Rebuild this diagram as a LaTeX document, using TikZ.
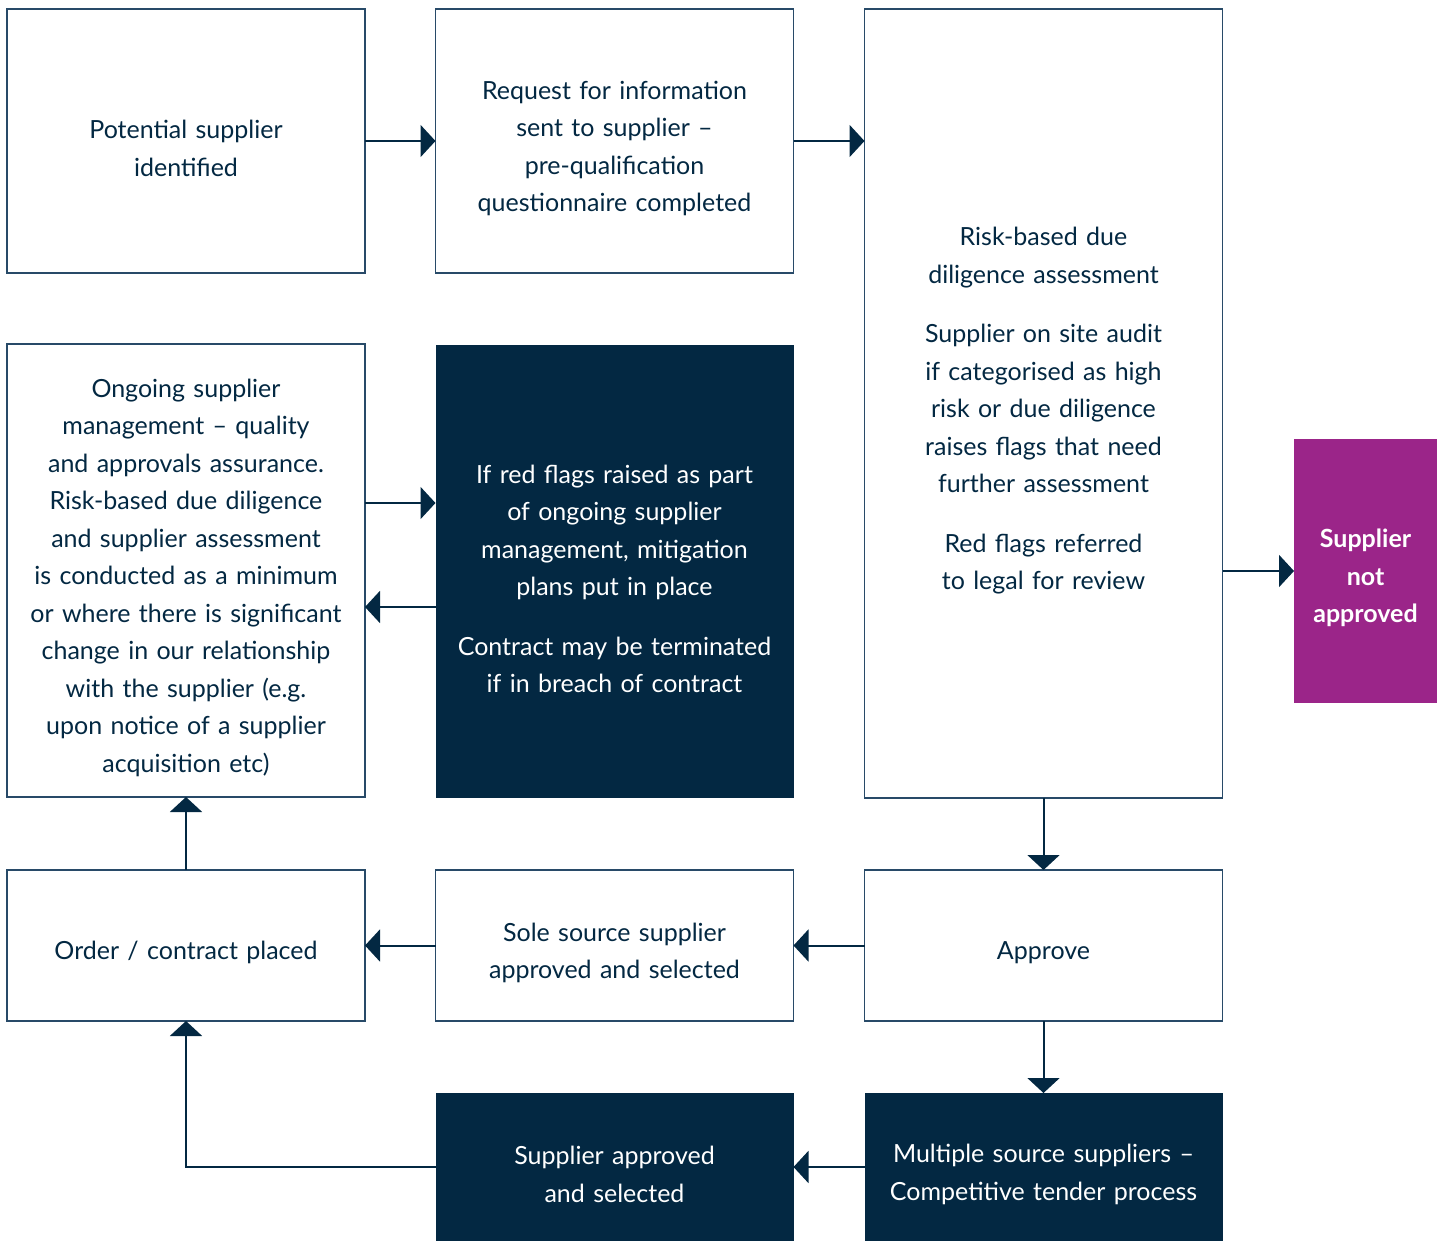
\documentclass[tikz,border=0pt]{standalone}
\usepackage{fontspec}
\setmainfont{Lato}
\usetikzlibrary{arrows.meta,positioning}
\definecolor{navy}{HTML}{032842}
\definecolor{plum}{HTML}{9B2589}
\definecolor{edge}{HTML}{284A68}
\tikzset{
  box/.style={draw=edge,line width=0.7pt,fill=white,text=navy,align=center,
    minimum width=179pt,text width=170pt,inner sep=0pt,outer sep=0pt,
    font=\fontsize{12.5pt}{18.75pt}\selectfont,
    execute at begin node={\rule{0pt}{16.5pt}}},
  darkbox/.style={box,draw=none,fill=navy,text=white},
  nobox/.style={box,draw=none,fill=plum,text=white,minimum width=71.5pt,
    text width=70pt,font=\bfseries\fontsize{12.5pt}{18.75pt}\selectfont},
  arr/.style={draw=navy,line width=1pt,-{Triangle[length=7.5pt,width=16pt]}}
}
\begin{document}
\begin{tikzpicture}[x=0.5pt,y=-0.5pt]
\useasboundingbox (0,0) rectangle (1446,1241);
%top row
\node[box,minimum height=132pt] (pot) at (186,141) {Potential supplier\\identified};
\node[box,minimum height=132pt] (rfi) at (614.5,141) {Request for information\\sent to supplier --\\pre-qualification\\questionnaire completed};
\node[box,minimum height=394.5pt] (risk) at (1043.5,403.5) {Risk-based due\\diligence assessment\\[11pt]
  Supplier on site audit\\if categorised as high\\risk or due diligence\\raises flags that need\\further assessment\\[11pt]
  Red flags referred\\to legal for review};
\node[nobox,minimum height=132pt] (nota) at (1365.5,571) {Supplier\\not\\approved};
%middle row
\node[box,minimum height=226.5pt] (ongo) at (186,570.5) {Ongoing supplier\\management -- quality\\and approvals assurance.\\Risk-based due diligence\\and supplier assessment\\is conducted as a minimum\\or where there is significant\\change in our relationship\\with the supplier (e.g.\\upon notice of a supplier\\acquisition etc)};
\node[darkbox,minimum height=226.5pt] (flags) at (614.5,571.5) {If red flags raised as part\\of ongoing supplier\\management, mitigation\\plans put in place\\[11pt]
  Contract may be terminated\\if in breach of contract};
%bottom rows
\node[box,minimum height=75.5pt] (order) at (186,945.5) {Order / contract placed};
\node[box,minimum height=75.5pt] (sole) at (614.5,945.5) {Sole source supplier\\approved and selected};
\node[box,minimum height=75.5pt] (appr) at (1043.5,945.5) {Approve};
\node[darkbox,minimum height=74pt] (selc) at (614.5,1167) {Supplier approved\\and selected};
\node[darkbox,minimum height=74pt] (multi) at (1043.5,1167) {Multiple source suppliers --\\Competitive tender process};
%connectors
\draw[arr] (pot.east) -- (rfi.west);
\draw[arr] (rfi.east) -- (rfi.east -| risk.west);
\draw[arr] (ongo.east |- 0,503) -- (flags.west |- 0,503);
\draw[arr] (flags.west |- 0,607) -- (ongo.east |- 0,607);
\draw[arr] (risk.east |- nota.west) -- (nota.west);
\draw[arr] (risk.south) -- (appr.north);
\draw[arr] (appr.west) -- (sole.east);
\draw[arr] (sole.west) -- (order.east);
\draw[arr] (order.north) -- (ongo.south);
\draw[arr] (appr.south) -- (multi.north);
\draw[arr] (multi.west) -- (selc.east);
\draw[arr] (selc.west) -| (order.south);
\end{tikzpicture}
\end{document}
